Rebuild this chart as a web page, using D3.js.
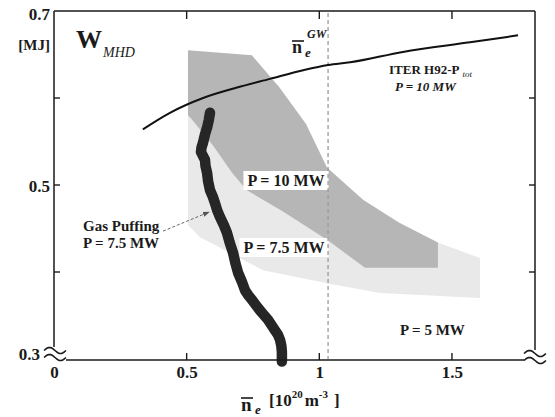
<!DOCTYPE html>
<html><head><meta charset="utf-8">
<script src="https://cdn.jsdelivr.net/npm/d3@7"></script>
<style>
body{margin:0;background:#fff}
svg{display:block}
text{font-family:"Liberation Serif","Times New Roman",serif;font-weight:bold;fill:#1a1a1a}
</style>
</head><body>
<svg id="c" width="555" height="417"></svg>
<script>
// ---- data ----
const xTickValues = [0, 0.5, 1, 1.5];
const xTickLabels = ["0", "0.5", "1", "1.5"];
const yTickValues = [0.3, 0.5, 0.7];
const yTickLabels = ["0.3", "0.5", "0.7"];
const yMinorTicks = [0.4, 0.5, 0.6];
const xInnerTicks = [0.5, 1, 1.5];
const nGreenwald = 1.033;

// ITER H92-P scaling, P = 10 MW
const iterN = [0.335, 0.437, 0.562, 0.690, 0.814, 0.939, 1.033, 1.116, 1.315, 1.568, 1.749];
const iterW = [0.564, 0.583, 0.600, 0.612, 0.622, 0.632, 0.638, 0.641, 0.653, 0.664, 0.672];

// Gas puffing trajectory, P = 7.5 MW
const gasN = [0.588, 0.583, 0.577, 0.569, 0.562, 0.556, 0.554, 0.562, 0.569, 0.571, 0.577, 0.581, 0.588, 0.598, 0.607, 0.615, 0.626, 0.640, 0.652, 0.662, 0.675, 0.684, 0.694, 0.708, 0.720, 0.733, 0.746, 0.761, 0.776, 0.790, 0.807, 0.820, 0.833, 0.844, 0.852, 0.857, 0.859, 0.859];
const gasW = [0.583, 0.574, 0.566, 0.558, 0.549, 0.543, 0.538, 0.533, 0.529, 0.522, 0.514, 0.504, 0.494, 0.487, 0.479, 0.471, 0.463, 0.454, 0.445, 0.434, 0.422, 0.410, 0.399, 0.389, 0.379, 0.373, 0.368, 0.362, 0.356, 0.351, 0.345, 0.339, 0.333, 0.328, 0.322, 0.315, 0.308, 0.297];

// operating region, P = 10 MW (dark band)
const band10N = [0.505, 0.746, 0.850, 0.950, 1.029, 1.165, 1.300, 1.447, 1.447, 1.172, 1.029, 0.860, 0.727, 0.671, 0.600, 0.513, 0.505];
const band10W = [0.655, 0.649, 0.612, 0.570, 0.520, 0.483, 0.457, 0.434, 0.405, 0.405, 0.437, 0.470, 0.494, 0.514, 0.545, 0.578, 0.580];

// operating region, P = 7.5 MW (light band)
const band75N = [0.505, 0.900, 1.447, 1.606, 1.606, 1.229, 1.029, 0.788, 0.663, 0.550, 0.505];
const band75W = [0.598, 0.500, 0.434, 0.416, 0.370, 0.376, 0.387, 0.402, 0.422, 0.440, 0.454];

// arrow for "Gas Puffing" label
const arrowN = [0.411, 0.585];
const arrowW = [0.447, 0.469];

// ---- layout ----
const svg = d3.select("#c");
const L = 54, R = 535, T = 11, B = 359;
const x = d3.scaleLinear().domain([0, 1.813]).range([L, R]);
const y = d3.scaleLinear().domain([0.3, 0.7]).range([B, T]);

const zipPts = (a, b) => a.map((v, i) => [x(v), y(b[i])]);

// bands
svg.append("path")
  .attr("d", d3.line()(zipPts(band75N, band75W)) + "Z")
  .attr("fill", "#e9e9e9");
svg.append("path")
  .attr("d", d3.line()(zipPts(band10N, band10W)) + "Z")
  .attr("fill", "#b6b6b6");

// label boxes inside bands
function boxLabel(txt, cx, by, size) {
  const t = svg.append("text").attr("x", cx).attr("y", by)
    .attr("text-anchor", "middle").attr("font-size", size).text(txt);
  const bb = t.node().getBBox();
  svg.insert("rect", () => t.node())
    .attr("x", bb.x - 4).attr("y", bb.y - 1)
    .attr("width", bb.width + 8).attr("height", bb.height + 2)
    .attr("fill", "#fff");
}
boxLabel("P = 10 MW", 286, 186, 16);
boxLabel("P = 7.5 MW", 284, 253, 16);

// Greenwald density line
svg.append("line")
  .attr("x1", x(nGreenwald)).attr("x2", x(nGreenwald))
  .attr("y1", T + 2).attr("y2", B)
  .attr("stroke", "#9a9a9a").attr("stroke-width", 1.3)
  .attr("stroke-dasharray", "4,3");

// ITER curve
svg.append("path")
  .attr("d", d3.line().curve(d3.curveMonotoneX)(zipPts(iterN, iterW)))
  .attr("fill", "none").attr("stroke", "#111").attr("stroke-width", 2);

// gas puffing trace
svg.append("path")
  .attr("d", d3.line().curve(d3.curveLinear)(zipPts(gasN, gasW)))
  .attr("fill", "none").attr("stroke", "#262626").attr("stroke-width", 10.5)
  .attr("stroke-linejoin", "round").attr("stroke-linecap", "round");

// arrow
const ap = zipPts(arrowN, arrowW);
svg.append("defs").append("marker")
  .attr("id", "ah").attr("viewBox", "0 0 10 10").attr("refX", 9).attr("refY", 5)
  .attr("markerWidth", 7).attr("markerHeight", 7).attr("orient", "auto")
  .append("path").attr("d", "M0,1.5L10,5L0,8.5Z").attr("fill", "#555");
svg.append("line")
  .attr("x1", ap[0][0]).attr("y1", ap[0][1]).attr("x2", ap[1][0]).attr("y2", ap[1][1])
  .attr("stroke", "#666").attr("stroke-width", 1).attr("stroke-dasharray", "3,2")
  .attr("marker-end", "url(#ah)");

// ---- frame ----
const frame = svg.append("g").attr("stroke", "#1a1a1a").attr("stroke-width", 1.5).attr("fill", "none");
frame.append("line").attr("x1", L).attr("x2", R).attr("y1", T).attr("y2", T);
frame.append("line").attr("x1", L).attr("x2", L).attr("y1", T).attr("y2", B - 12);
frame.append("line").attr("x1", R).attr("x2", R).attr("y1", T).attr("y2", B - 9);
frame.append("line").attr("x1", L + 12).attr("x2", R - 11).attr("y1", B + 1).attr("y2", B + 1);

// break marks
function breakMark(cx, cy) {
  const pts = d3.range(0, 1.0001, 0.05);
  [-3.5, 3.5].forEach(off => {
    svg.append("path")
      .attr("d", d3.line()(pts.map(t => [cx - 11 + 22 * t, cy + off - 3 * Math.sin(t * 2 * Math.PI)])))
      .attr("fill", "none").attr("stroke", "#1a1a1a").attr("stroke-width", 1.6);
  });
}
breakMark(L + 1, B - 5);
breakMark(R, B - 2);

// ticks (inward)
const tk = svg.append("g").attr("stroke", "#1a1a1a").attr("stroke-width", 1.4);
xInnerTicks.forEach(v => {
  tk.append("line").attr("x1", x(v)).attr("x2", x(v)).attr("y1", T).attr("y2", T + 8);
  tk.append("line").attr("x1", x(v)).attr("x2", x(v)).attr("y1", B + 1).attr("y2", B - 6);
});
yMinorTicks.forEach(v => {
  tk.append("line").attr("x1", L).attr("x2", L + 6).attr("y1", y(v)).attr("y2", y(v));
  tk.append("line").attr("x1", R).attr("x2", R - 6).attr("y1", y(v)).attr("y2", y(v));
});

// x tick labels
const xAx = svg.append("g").attr("transform", `translate(0,${B})`)
  .call(d3.axisBottom(x).tickValues(xTickValues).tickSize(0).tickPadding(7)
    .tickFormat((d, i) => xTickLabels[i]));
xAx.select(".domain").remove();
xAx.selectAll("text").attr("font-size", 17).attr("font-family", null).attr("fill", "#1a1a1a");

// y tick labels
const yShift = [-5, 1, 3];
const yAx = svg.append("g").attr("transform", `translate(${L},0)`)
  .call(d3.axisLeft(y).tickValues(yTickValues).tickSize(0).tickPadding(4)
    .tickFormat((d, i) => yTickLabels[i]));
yAx.select(".domain").remove();
yAx.selectAll("text").attr("font-size", 17).attr("font-family", null).attr("fill", "#1a1a1a")
  .attr("transform", (d, i) => `translate(${i === 0 ? -10 : 0},${yShift[i]})`);

// unit
svg.append("text").attr("x", 50).attr("y", 50).attr("text-anchor", "end")
  .attr("font-size", 15).text("[MJ]");

// W_MHD
const wt = svg.append("text").attr("x", 76).attr("y", 48).attr("font-size", 26).text("W");
wt.append("tspan").attr("font-size", 14).attr("font-style", "italic").attr("font-weight", "normal")
  .attr("dx", 1).attr("dy", 9).text("MHD");

// Greenwald label
svg.append("text").attr("x", 292).attr("y", 53).attr("font-size", 18).attr("font-weight", "normal").text("n");
svg.append("line").attr("x1", 292).attr("x2", 304).attr("y1", 41).attr("y2", 41)
  .attr("stroke", "#1a1a1a").attr("stroke-width", 1.6);
svg.append("text").attr("x", 305).attr("y", 57).attr("font-size", 13).attr("font-style", "italic")
  .attr("font-weight", "normal").text("e");
svg.append("text").attr("x", 307).attr("y", 38).attr("font-size", 12).attr("font-style", "italic")
  .attr("font-weight", "normal").text("GW");

// ITER label
const it = svg.append("text").attr("x", 389).attr("y", 74).attr("font-size", 13).text("ITER H92-P");
it.append("tspan").attr("font-size", 9).attr("font-style", "italic").attr("font-weight", "normal")
  .attr("dx", 3).attr("dy", 3).text("tot");
svg.append("text").attr("x", 395).attr("y", 91).attr("font-size", 13).attr("font-style", "italic")
  .text("P = 10 MW");

// Gas Puffing label
svg.append("text").attr("x", 83).attr("y", 231).attr("font-size", 15).text("Gas Puffing");
svg.append("text").attr("x", 83).attr("y", 248).attr("font-size", 15).text("P = 7.5 MW");

// P = 5 MW
svg.append("text").attr("x", 400).attr("y", 335).attr("font-size", 15).text("P = 5 MW");

// x axis title
svg.append("text").attr("x", 241).attr("y", 411).attr("font-size", 19).attr("font-weight", "normal").text("n");
svg.append("line").attr("x1", 241).attr("x2", 253).attr("y1", 398).attr("y2", 398)
  .attr("stroke", "#1a1a1a").attr("stroke-width", 1.6);
svg.append("text").attr("x", 255).attr("y", 414).attr("font-size", 13).attr("font-style", "italic")
  .attr("font-weight", "normal").text("e");
const xt = svg.append("text").attr("x", 269).attr("y", 406).attr("font-size", 17);
xt.append("tspan").text("[10");
xt.append("tspan").attr("font-size", 11).attr("dy", -8).text("20");
xt.append("tspan").attr("dy", 8).attr("dx", 2).text("m");
xt.append("tspan").attr("font-size", 11).attr("dy", -8).text("-3");
xt.append("tspan").attr("dy", 8).attr("dx", 6).text("]");
</script>
</body></html>
